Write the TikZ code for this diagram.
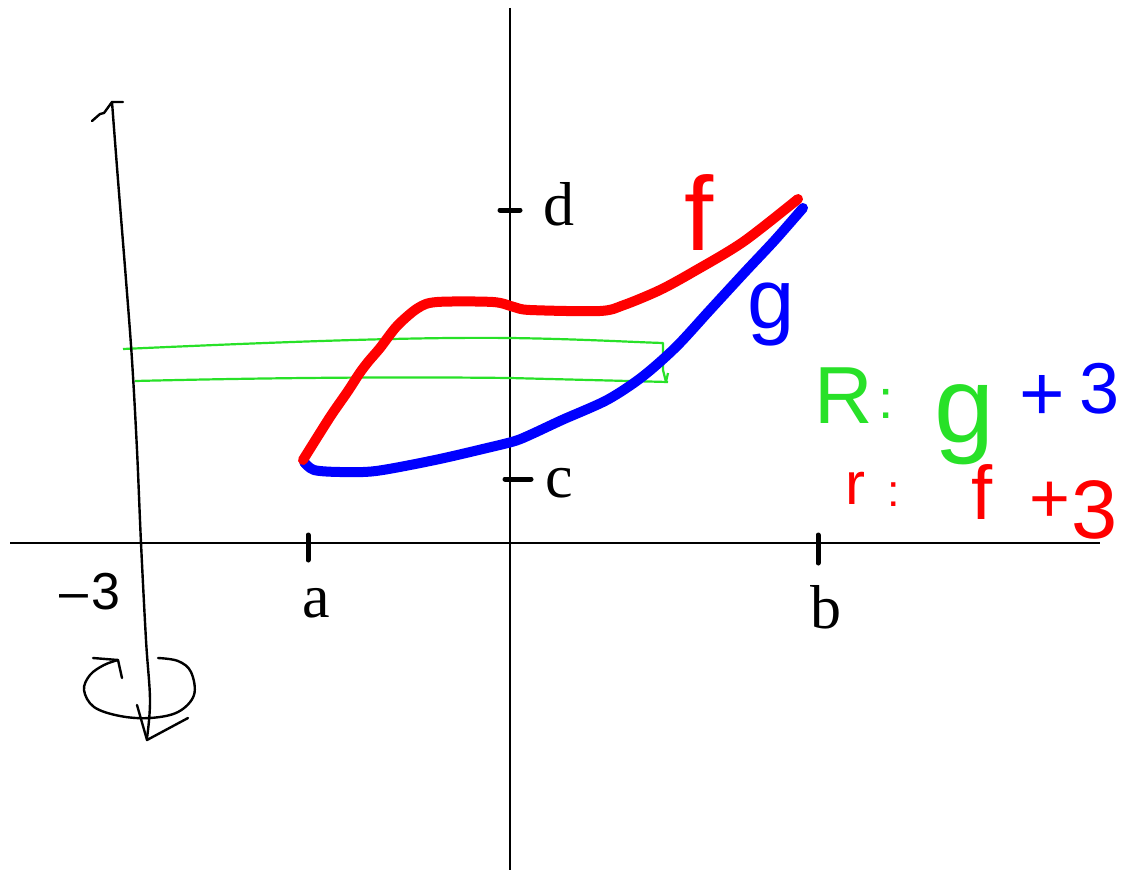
\documentclass[tikz,border=0pt]{standalone}
\usepackage{fontspec}
\setmainfont{Liberation Serif}
\newfontfamily\handfont{Liberation Sans}
\definecolor{penred}{RGB}{255,0,0}
\definecolor{penblue}{RGB}{0,0,255}
\definecolor{pengreen}{RGB}{40,225,40}
\tikzset{
  axisline/.style={line width=2.8pt, black},
  tickmark/.style={line width=5pt, black, line cap=round},
  curvef/.style={line width=10pt, penred, line cap=round, line join=round},
  curveg/.style={line width=10pt, penblue, line cap=round, line join=round},
  strip/.style={line width=2.2pt, pengreen, line join=round},
  handline/.style={line width=2.4pt, black, line cap=round, line join=round},
  serif/.style={inner sep=0pt, anchor=base west, font=\fontsize{62}{62}\selectfont},
  hand/.style={inner sep=0pt, anchor=center},
}
\begin{document}
\begin{tikzpicture}[x=1pt,y=-1pt]
\useasboundingbox (0,0) rectangle (1121,872);
\fill[white] (0,0) rectangle (1121,872);

% axes
\coordinate (xl) at (10,543);
\coordinate (xr) at (1100,543);
\coordinate (yt) at (510,8);
\coordinate (yb) at (510,870);
\draw[axisline] (xl) -- (xr);
\draw[axisline] (yt) -- (yb);

% ticks
\coordinate (ta1) at (308,535); \coordinate (ta2) at (308,560);
\coordinate (tb1) at (818,535); \coordinate (tb2) at (818,563);
\coordinate (tc1) at (505,479); \coordinate (tc2) at (531,479);
\coordinate (td1) at (500,210); \coordinate (td2) at (520,210);
\draw[tickmark] (ta1) -- (ta2);
\draw[tickmark] (tb1) -- (tb2);
\draw[tickmark] (tc1) -- (tc2);
\draw[tickmark] (td1) -- (td2);

% tick labels
\node[serif] (la) at (302,617) {a};
\node[serif] (lb) at (810,628) {b};
\node[serif] (lc) at (545,497) {c};
\node[serif] (ld) at (543,225) {d};

% green strip
\draw[strip] (123,349) .. controls (300,341) and (420,337) .. (510,338)
  .. controls (580,339) and (630,342) .. (663,343)
  -- (663,370) -- (666,382) -- (668,373);
\draw[strip] (135,381) .. controls (300,377) and (420,377) .. (510,378)
  -- (668,382);

% blue curve g
\draw[curveg] plot[smooth, tension=0.5] coordinates {
  (304,462) (314,470) (340,472) (376,471) (435,460) (487,448) (515,441)
  (532,434) (562,420) (607,400) (642,377) (676,347) (710,310) (745,272)
  (775,240) (803,208)};

% red curve f
\draw[curvef] plot[smooth, tension=0.5] coordinates {
  (303,460) (318,436) (332,414) (348,391) (359,374) (368,362) (380,348)
  (397,326) (418,308) (437,302) (493,302) (514,307) (530,310) (600,311)
  (624,305) (660,290) (693,272) (743,242) (798,199)};

% curve labels
\node[hand, text=penred, font=\handfont\fontsize{105}{105}\selectfont] (lf) at (699,213) {f};
\node[hand, text=penblue, font=\handfont\fontsize{85}{85}\selectfont] (lg) at (771,315) {g};

% hand-drawn axis of rotation
\draw[handline] plot[smooth, tension=0.6] coordinates {
  (112,102) (118,180) (126,280) (132,360) (137,450) (141,543) (146,640)
  (150,700) (147,738)};
\draw[handline] (92,121) -- (100,114) -- (104,113) -- (112,102) -- (123,102);
\draw[handline] (137,705) -- (147,740) -- (188,718);

% rotation symbol
\draw[handline] plot[smooth, tension=0.6] coordinates {
  (118,660) (104,665) (90,675) (84,690) (94,707) (120,716) (150,718)
  (178,712) (194,695) (191,672) (178,661) (158,658)};
\draw[handline] (93,658) -- (118,660) -- (122,678);

\node[hand, font=\handfont\fontsize{52}{52}\selectfont] (lm3) at (90,592) {–\hspace{4pt}3};

% formulas
\node[hand, text=pengreen, font=\handfont\fontsize{81}{81}\selectfont] (lR) at (844,396) {R};
\node[hand, text=pengreen, font=\handfont\fontsize{55}{55}\selectfont] (lRc) at (886,404) {:};
\node[hand, text=pengreen, font=\handfont\fontsize{108}{108}\selectfont] (lRg) at (965,425) {g};
\node[hand, text=penblue, font=\handfont\fontsize{78}{78}\selectfont] (lRp) at (1042,398) {+};
\node[hand, text=penblue, font=\handfont\fontsize{72}{72}\selectfont] (lR3) at (1100,389) {3};

\node[hand, text=penred, font=\handfont\fontsize{60}{60}\selectfont] (lr) at (855,488) {r};
\node[hand, text=penred, font=\handfont\fontsize{45}{45}\selectfont] (lrc) at (894,495) {:};
\node[hand, text=penred, font=\handfont\fontsize{76}{76}\selectfont] (lrf) at (982,492) {f};
\node[hand, text=penred, font=\handfont\fontsize{70}{70}\selectfont] (lrp) at (1050,502) {+};
\node[hand, text=penred, font=\handfont\fontsize{83}{83}\selectfont] (lr3) at (1095,510) {3};
\end{tikzpicture}
\end{document}
